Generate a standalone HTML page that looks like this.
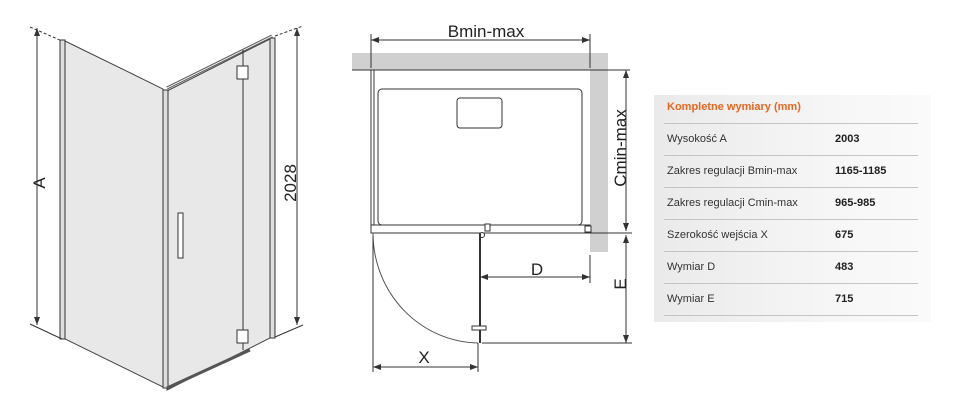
<!DOCTYPE html>
<html><head><meta charset="utf-8"><style>
body{margin:0;width:960px;height:412px;background:#fff;overflow:hidden;font-family:"Liberation Sans",sans-serif}
svg{position:absolute;left:0;top:0}
.tb{position:absolute;left:654px;top:95px;width:277px;height:227px;background:linear-gradient(90deg,#eaeaea,#f7f7f7 70%,#fafafa)}
.t{position:absolute;left:667px;font-size:11px;color:#333}
.v{position:absolute;left:835px;font-size:11px;color:#222;font-weight:bold}
.ln{position:absolute;left:664px;width:254px;height:1px;background:#c4c4c4}
</style></head><body>
<svg width="960" height="412" viewBox="0 0 960 412">
<defs><marker id="a" markerWidth="8" markerHeight="6" refX="8" refY="3" orient="auto-start-reverse"><path d="M0,0 L8,3 L0,6 z" fill="#333"/></marker></defs>
<g stroke="#333" stroke-width="1" fill="none">
<!-- left 3D -->
<polygon points="65,41 163,89 163,387 65,339" fill="#e8e8e8" stroke="#444"/>
<polygon points="167,91 270,39 270,338 167,390" fill="#e8e8e8" stroke="#444"/>
<rect x="60" y="40" width="5" height="299" fill="#ddd"/>
<rect x="163" y="90" width="5" height="298" fill="#ddd"/>
<rect x="270" y="38" width="5" height="300" fill="#ddd"/>
<line x1="167" y1="88" x2="272" y2="36" stroke-width="3" stroke="#555"/>
<line x1="167" y1="88" x2="272" y2="36" stroke-width="1" stroke="#eee"/>
<line x1="167" y1="388" x2="250" y2="350" stroke-width="3" stroke="#555"/>
<line x1="243" y1="50" x2="243" y2="350"/>
<rect x="237" y="66" width="11" height="13" fill="#fff"/>
<rect x="237" y="330" width="11" height="13" fill="#fff"/>
<rect x="178" y="213" width="5" height="45" fill="#fff"/>
<line x1="37" y1="28" x2="37" y2="325" marker-start="url(#a)" marker-end="url(#a)"/>
<line x1="30" y1="27" x2="62" y2="41" stroke-dasharray="3 2"/>
<line x1="30" y1="324" x2="62" y2="339"/>
<line x1="297" y1="28" x2="297" y2="325" marker-start="url(#a)" marker-end="url(#a)"/>
<line x1="275" y1="36" x2="303" y2="26" stroke-dasharray="3 2"/>
<line x1="275" y1="337" x2="303" y2="325"/>
<!-- plan -->
<rect x="352" y="53" width="256" height="17" fill="#d0d0d0" stroke="none"/>
<rect x="590" y="70" width="18" height="182" fill="#d0d0d0" stroke="none"/>
<line x1="352" y1="70" x2="630" y2="70"/>
<line x1="371" y1="40" x2="590" y2="40" marker-start="url(#a)" marker-end="url(#a)"/>
<line x1="371" y1="34" x2="371" y2="68"/>
<line x1="590" y1="34" x2="590" y2="68"/>
<rect x="371" y="70" width="3" height="163" fill="#fff"/>
<rect x="378" y="89" width="204" height="136" rx="4" fill="#fff"/>
<rect x="457" y="98" width="45" height="30" rx="3" fill="#fff"/>
<rect x="371" y="225" width="219" height="8" fill="#fff"/>
<rect x="585" y="226" width="6" height="6" fill="#fff"/>
<rect x="485" y="224" width="5" height="7" fill="#fff"/>
<circle cx="482" cy="235" r="2.5" fill="#fff"/>
<line x1="480" y1="233" x2="480" y2="343" stroke-width="2"/>
<path d="M373,233 A107,110 0 0 0 478,343" stroke="#555"/>
<rect x="472" y="326" width="14" height="4" fill="#fff"/>
<line x1="480" y1="277" x2="590" y2="277" marker-start="url(#a)" marker-end="url(#a)"/>
<line x1="590" y1="255" x2="590" y2="283"/>
<line x1="626" y1="70" x2="626" y2="231" marker-start="url(#a)" marker-end="url(#a)"/>
<line x1="626" y1="235" x2="626" y2="343" marker-start="url(#a)" marker-end="url(#a)"/>
<line x1="590" y1="233" x2="632" y2="233"/>
<line x1="482" y1="343" x2="632" y2="343"/>
<line x1="373" y1="236" x2="373" y2="372"/>
<line x1="478" y1="343" x2="478" y2="372"/>
<line x1="373" y1="367" x2="478" y2="367" marker-start="url(#a)" marker-end="url(#a)"/>
</g>
<g fill="#222" font-family="Liberation Sans, sans-serif" font-size="17">
<text x="486" y="37" text-anchor="middle">Bmin-max</text>
<text x="537" y="275" text-anchor="middle">D</text>
<text x="424" y="363" text-anchor="middle">X</text>
<text transform="translate(626,148) rotate(-90)" text-anchor="middle">Cmin-max</text>
<text transform="translate(626,284) rotate(-90)" text-anchor="middle">E</text>
<text transform="translate(45,183) rotate(-90)" text-anchor="middle">A</text>
<text transform="translate(296,183) rotate(-90)" text-anchor="middle">2028</text>
</g>
</svg>
<div class="tb"></div>
<div style="position:absolute;left:667px;top:101px;font-size:11px;font-weight:bold;color:#e8661f">Kompletne wymiary (mm)</div>
<div class="ln" style="top:123px"></div><div class="ln" style="top:155px"></div><div class="ln" style="top:187px"></div><div class="ln" style="top:219px"></div><div class="ln" style="top:251px"></div><div class="ln" style="top:283px"></div><div class="ln" style="top:315px"></div>
<div class="t" style="top:133px">Wysokość A</div><div class="v" style="top:133px">2003</div>
<div class="t" style="top:165px">Zakres regulacji Bmin-max</div><div class="v" style="top:165px">1165-1185</div>
<div class="t" style="top:197px">Zakres regulacji Cmin-max</div><div class="v" style="top:197px">965-985</div>
<div class="t" style="top:229px">Szerokość wejścia X</div><div class="v" style="top:229px">675</div>
<div class="t" style="top:261px">Wymiar D</div><div class="v" style="top:261px">483</div>
<div class="t" style="top:293px">Wymiar E</div><div class="v" style="top:293px">715</div>
</body></html>
